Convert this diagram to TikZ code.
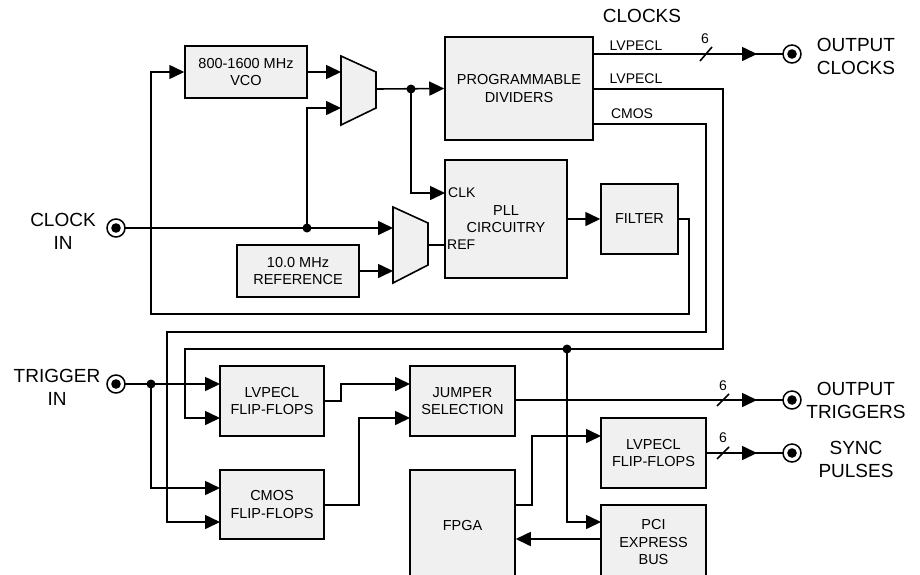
\documentclass[tikz,border=0pt]{standalone}
\usepackage{fontspec}
\setmainfont{Liberation Sans}
\usetikzlibrary{arrows.meta, calc}

\begin{document}
\begin{tikzpicture}[
    x = 1pt, y = -1pt,
    blk/.style = {draw, fill = black!6, line width = 1.5pt, align = center,
      inner sep = 0pt, font = \fontsize{14.5}{17.5}\selectfont},
    wire/.style = {line width = 1.6pt},
    sig/.style = {wire, -{Triangle[length = 15pt, width = 14pt]}},
    big/.style = {align = center, font = \fontsize{19}{23}\selectfont},
    tag/.style = {inner sep = 1pt, font = \fontsize{14}{16}\selectfont},
    jack/.style = {draw, circle, fill = white, line width = 1.5pt,
      minimum size = 18pt, inner sep = 0pt},
    dot/.style = {circle, fill, minimum size = 9pt, inner sep = 0pt}
  ]
  \useasboundingbox (0,0) rectangle (920,574);

  % Blocks
  \node[blk, minimum width = 122pt, minimum height = 52pt] (vco) at (246,72)
    {800-1600 MHz\\VCO};
  \node[blk, minimum width = 122pt, minimum height = 52pt] (ref) at (298,271)
    {10.0 MHz\\REFERENCE};
  \node[blk, minimum width = 148pt, minimum height = 103pt] (div) at (519,88.5)
    {PROGRAMMABLE\\DIVIDERS};
  \node[blk, minimum width = 122pt, minimum height = 118pt] (pll) at (506,219)
    {PLL\\CIRCUITRY};
  \node[blk, minimum width = 77pt, minimum height = 70pt] (filt) at (639.5,219)
    {FILTER};
  \node[blk, minimum width = 104pt, minimum height = 70pt] (lvff) at (272,401)
    {LVPECL\\FLIP-FLOPS};
  \node[blk, minimum width = 104pt, minimum height = 69pt] (cmff) at (272,504.5)
    {CMOS\\FLIP-FLOPS};
  \node[blk, minimum width = 105pt, minimum height = 70pt] (jump) at (462.5,401)
    {JUMPER\\SELECTION};
  \node[blk, minimum width = 105pt, minimum height = 110pt] (fpga) at (462.5,525)
    {FPGA};
  \node[blk, minimum width = 105pt, minimum height = 70pt] (sff) at (653.5,453)
    {LVPECL\\FLIP-FLOPS};
  \node[blk, minimum width = 105pt, minimum height = 74pt] (pci) at (653.5,542)
    {PCI\\EXPRESS\\BUS};

  % Multiplexers
  \draw[wire, fill = black!6] (341,56) -- (376,72) -- (376,108) -- (341,125) -- cycle;
  \draw[wire, fill = black!6] (393,207) -- (428,223) -- (428,265) -- (393,283) -- cycle;
  \coordinate (mux1a) at (341,72);
  \coordinate (mux1b) at (341,108);
  \coordinate (mux1out) at (376,89);
  \coordinate (mux2a) at (393,228);
  \coordinate (mux2b) at (393,271);
  \coordinate (mux2out) at (428,245);

  % Ports
  \coordinate (pllclk) at (445,193);
  \coordinate (pllref) at (445,245);
  \coordinate (lvffa) at (220,384);
  \coordinate (lvffb) at (220,418);
  \coordinate (cmffa) at (220,488);
  \coordinate (cmffb) at (220,522);
  \coordinate (jumpa) at (410,384);
  \coordinate (jumpb) at (410,418);
  \coordinate (sffin) at (601,436);
  \coordinate (pciin) at (601,522);
  \coordinate (clkout) at (593,54);
  \coordinate (lvout) at (593,89);
  \coordinate (cmout) at (593,124);

  \coordinate (clkin) at (116,228);
  \coordinate (trigin) at (116,384);
  \coordinate (oclk) at (792,54);
  \coordinate (otrig) at (792,400);
  \coordinate (osync) at (792,453);

  \coordinate (j1) at (307,228);
  \coordinate (j2) at (411,89);
  \coordinate (j3) at (567,349);
  \coordinate (j4) at (151,384);

  % Clock path
  \draw[sig] (vco.east) -- (mux1a);
  \draw[sig] (clkin) -- (mux2a);
  \draw[sig] (j1) |- (mux1b);
  \draw[sig] (mux1out) -- (div.west);
  \draw[sig] (j2) |- (pllclk);
  \draw[sig] (ref.east |- mux2b) -- (mux2b);
  \draw[wire] (mux2out) -- (pllref);
  \draw[sig] (pll.east) -- (filt.west);
  \draw[sig] (filt.east) -| (689,314) -| (151,72) -- (vco.west);

  % Outputs of the dividers
  \draw[wire] (clkout) -- (oclk);
  \draw[sig] (clkout) -- ($(oclk) + (-35,0)$);
  \draw[wire] (700,61) -- (712,47);
  \draw[sig] (lvout) -| (723,349) -| (185,418) -- (lvffb);
  \draw[sig] (cmout) -| (706,332) -| (167,522) -- (cmffb);

  % Trigger path
  \draw[sig] (trigin) -- (lvffa);
  \draw[sig] (j4) |- (cmffa);
  \draw[sig] (lvff.east) -- (341,401) |- (jumpa);
  \draw[sig] (cmff.east |- 0,505) -| (359,418) -- (jumpb);
  \draw[wire] (jump.east |- otrig) -- (otrig);
  \draw[sig] (jump.east |- otrig) -- ($(otrig) + (-35,0)$);
  \draw[wire] (717,406) -- (729,394);
  \draw[sig] (fpga.east |- 0,505) -| (532,436) -- (sffin);
  \draw[wire] (sff.east) -- (osync);
  \draw[sig] (sff.east) -- ($(osync) + (-35,0)$);
  \draw[wire] (717,459) -- (729,447);
  \draw[sig] (j3) |- (pciin);
  \draw[sig] (pci.west |- 0,539) -- (fpga.east |- 0,539);

  % Connectors and junctions
  \foreach \p in {clkin, trigin, oclk, otrig, osync}{
    \node[jack] at (\p) {};
    \fill (\p) circle (4.8pt);
  }
  \foreach \p in {j1, j2, j3, j4}
    \node[dot] at (\p) {};

  % Labels
  \node[big] (lclocks) at (642,16) {CLOCKS};
  \node[big] (loclk) at (856,56.5) {OUTPUT\\CLOCKS};
  \node[big] (lotrig) at (856,400) {OUTPUT\\TRIGGERS};
  \node[big] (losync) at (856,459.5) {SYNC\\PULSES};
  \node[big] (lclkin) at (63,231.5) {CLOCK\\IN};
  \node[big] (ltrigin) at (57,387) {TRIGGER\\IN};
  \node[tag] (llv1) at (636,46) {LVPECL};
  \node[tag] (llv2) at (636,79) {LVPECL};
  \node[tag] (lcm) at (632,114) {CMOS};
  \node[tag, anchor = west] (lclk) at (447,193) {CLK};
  \node[tag, anchor = west] (lref) at (446,245) {REF};
  \node[tag] (n1) at (705,39) {6};
  \node[tag] (n2) at (723,386) {6};
  \node[tag] (n3) at (723,438) {6};
\end{tikzpicture}
\end{document}
